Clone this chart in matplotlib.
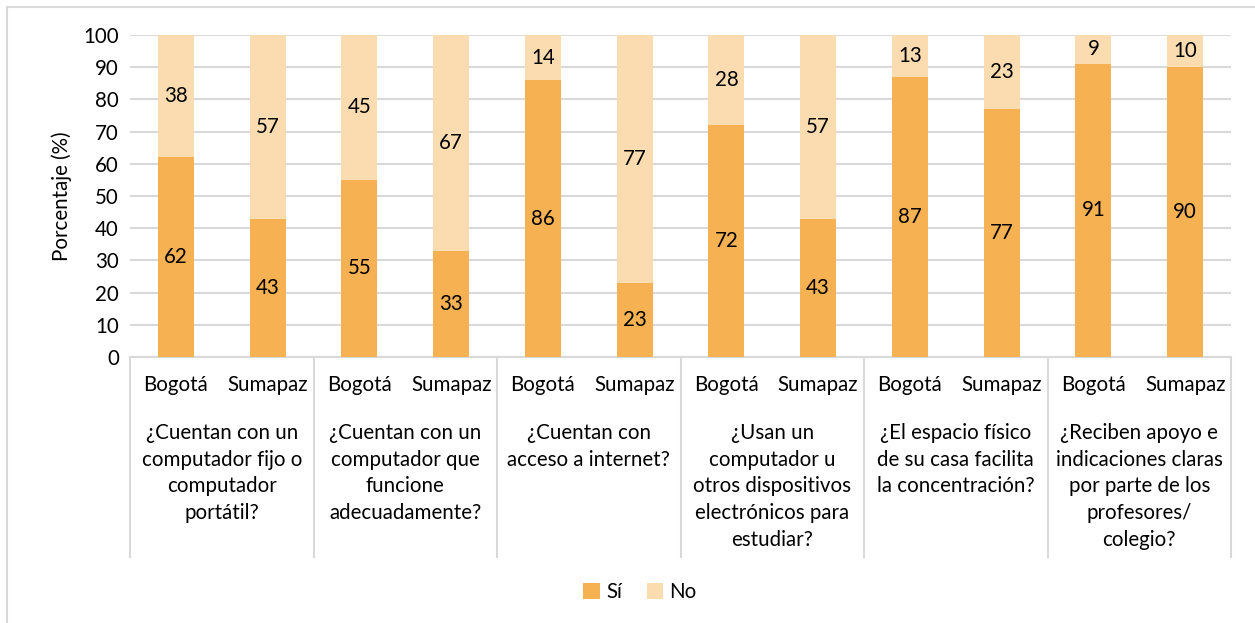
import numpy as np
import matplotlib.pyplot as plt
from matplotlib.patches import Rectangle
from matplotlib.lines import Line2D

plt.rcParams['font.family'] = ['Lato', 'DejaVu Sans']

# === data ===
preguntas = [
    '¿Cuentan con un\ncomputador fijo o\ncomputador\nportátil?',
    '¿Cuentan con un\ncomputador que\nfuncione\nadecuadamente?',
    '¿Cuentan con\nacceso a internet?',
    '¿Usan un\ncomputador u\notros dispositivos\nelectrónicos para\nestudiar?',
    '¿El espacio físico\nde su casa facilita\nla concentración?',
    '¿Reciben apoyo e\nindicaciones claras\npor parte de los\nprofesores/\ncolegio?',
]
lugares = ['Bogotá', 'Sumapaz']
si = [62, 43, 55, 33, 86, 23, 72, 43, 87, 77, 91, 90]
no = [38, 57, 45, 67, 14, 77, 28, 57, 13, 23, 9, 10]

c_si = '#F6B153'
c_no = '#FBDCB0'
grid_c = '#D9D9D9'
fs = 14.8

fig = plt.figure(figsize=(12.55, 6.23), dpi=100)
fig.patches.append(Rectangle((7 / 1255, -0.05), 1.2, 1 - 7 / 623 + 0.05,
                             transform=fig.transFigure, fill=False,
                             edgecolor=grid_c, linewidth=1.5))

ax = fig.add_axes([130 / 1255, 266 / 623, 1101 / 1255, 322 / 623])

x = np.arange(len(si))
w = 0.39
b1 = ax.bar(x, si, w, color=c_si, label='Sí', zorder=3)
b2 = ax.bar(x, no, w, bottom=si, color=c_no, label='No', zorder=3)
ax.bar_label(b1, label_type='center', fontsize=fs)
ax.bar_label(b2, label_type='center', fontsize=fs)

ax.set_xlim(-0.5, len(si) - 0.5)
ax.set_ylim(0, 100)
ax.set_yticks(range(0, 101, 10))
ax.yaxis.grid(True, color=grid_c, linewidth=1.5, zorder=0)
ax.tick_params(axis='y', length=0, labelsize=fs, pad=8)
ax.tick_params(axis='x', length=0)
ax.set_xticks([])
for s in ['top', 'right', 'left']:
    ax.spines[s].set_visible(False)
ax.spines['bottom'].set_color(grid_c)
ax.spines['bottom'].set_linewidth(1.5)
ax.set_ylabel('Porcentaje (%)', fontsize=fs, labelpad=8)

# sub-category and group labels under the axis
for i in range(len(si)):
    ax.text(x[i], -0.087, lugares[i % 2], transform=ax.get_xaxis_transform(),
            ha='center', va='center', fontsize=fs)
for g, txt in enumerate(preguntas):
    ax.text(2 * g + 0.5, -0.205, txt, transform=ax.get_xaxis_transform(),
            ha='center', va='top', fontsize=fs, linespacing=1.42)

# group separators
for g in range(len(preguntas) + 1):
    xs = 2 * g - 0.5
    ax.add_line(Line2D([xs, xs], [0, -0.622], transform=ax.get_xaxis_transform(),
                       color=grid_c, linewidth=1.5, clip_on=False))

fig.legend(handles=[b1, b2], loc='center', bbox_to_anchor=(640 / 1255, 1 - 592 / 623),
           ncol=2, frameon=False, fontsize=fs, handlelength=0.8, handleheight=0.8,
           handletextpad=0.3, columnspacing=1.2)

fig.savefig('out.png', dpi=100)
